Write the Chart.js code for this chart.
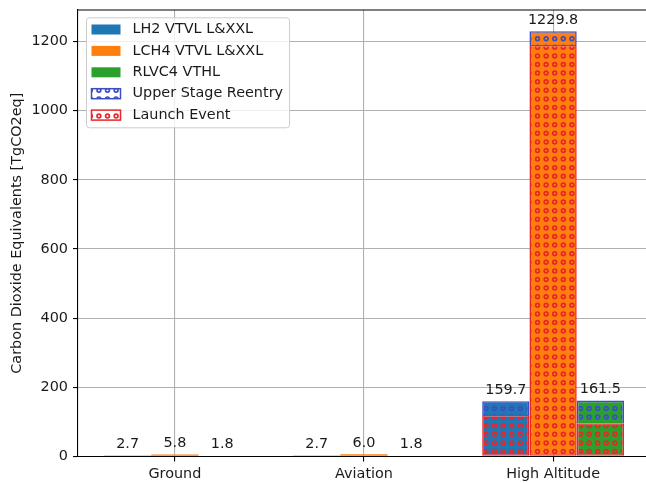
<!DOCTYPE html>
<html>
<head>
<meta charset="utf-8">
<script src="https://cdn.jsdelivr.net/npm/chart.js@4.4.1/dist/chart.umd.min.js"></script>
<style>
html, body { margin: 0; padding: 0; overflow: hidden; background: #fff; }
#wrap { width: 656px; height: 483px; }
</style>
</head>
<body>
<div id="wrap"><canvas id="emissionsChart"></canvas></div>
<script>
const categories = ['Ground', 'Aviation', 'High Altitude'];
const vehicles = ['LH2 VTVL L&XXL', 'LCH4 VTVL L&XXL', 'RLVC4 VTHL'];
const vehicleColors = ['#1f77b4', '#ff7f0e', '#2ca02c'];

// launch event part of each band; reentry only adds to the high altitude band
const lh2Launch = [2.7, 2.7, 120.0];
const lh2Reentry = [0, 0, 39.7];
const lch4Launch = [5.8, 6.0, 1190.0];
const lch4Reentry = [0, 0, 39.8];
const rlvc4Launch = [1.8, 1.8, 96.0];
const rlvc4Reentry = [0, 0, 65.5];

const yTicks = [0, 200, 400, 600, 800, 1000, 1200];

const reentryEdge = '#3b4fc4';
const launchEdge = '#e8262a';
const hatchedBand = categories.indexOf('High Altitude');
const fontSize = 14.4;
const fontFamily = '"DejaVu Sans", sans-serif';
const textColor = '#1a1a1a';

Chart.defaults.font.family = fontFamily;
Chart.defaults.font.size = fontSize;
Chart.defaults.color = textColor;

// small rings on a square grid, like an 'oo' hatch
function circleHatch(bg, ink) {
    const step = 8.6, cells = 5, size = step * cells;
    const c = document.createElement('canvas');
    c.width = size;
    c.height = size;
    const g = c.getContext('2d');
    g.fillStyle = bg;
    g.fillRect(0, 0, size, size);
    g.strokeStyle = ink;
    g.lineWidth = 1.7;
    for (let r = 0; r < cells; r++) {
        for (let k = 0; k < cells; k++) {
            g.beginPath();
            g.arc((k + 0.5) * step, (r + 0.5) * step, 1.9, 0, Math.PI * 2);
            g.stroke();
        }
    }
    return g.createPattern(c, 'repeat');
}

function bandDataset(label, values, color, edge, stack, onTop) {
    return {
        label,
        data: values,
        stack,
        backgroundColor: values.map((v, i) => i === hatchedBand ? circleHatch(color, edge) : color),
        borderColor: values.map((v, i) => i === hatchedBand ? edge : color),
        borderWidth: values.map((v, i) => i === hatchedBand ? 1.6 : 0),
        borderSkipped: onTop ? 'start' : false,
        categoryPercentage: 0.75,
        barPercentage: 1
    };
}

const launchSets = [lh2Launch, lch4Launch, rlvc4Launch];
const reentrySets = [lh2Reentry, lch4Reentry, rlvc4Reentry];

const datasets = [];
vehicles.forEach((name, v) => {
    datasets.push(bandDataset(name + ' launch', launchSets[v], vehicleColors[v], launchEdge, name, false));
    const top = bandDataset(name + ' reentry', reentrySets[v], vehicleColors[v], reentryEdge, name, true);
    top.totals = launchSets[v].map((x, i) => x + reentrySets[v][i]);
    datasets.push(top);
});

const legendItems = [
    { text: vehicles[0], fill: vehicleColors[0] },
    { text: vehicles[1], fill: vehicleColors[1] },
    { text: vehicles[2], fill: vehicleColors[2] },
    { text: 'Upper Stage Reentry', edge: reentryEdge },
    { text: 'Launch Event', edge: launchEdge }
];

// value of the whole stack above each bar
const totalLabels = {
    id: 'totalLabels',
    afterDatasetsDraw(chart) {
        const ctx = chart.ctx;
        ctx.save();
        ctx.font = fontSize + 'px ' + fontFamily;
        ctx.fillStyle = textColor;
        ctx.textAlign = 'center';
        ctx.textBaseline = 'bottom';
        chart.data.datasets.forEach((ds, i) => {
            if (!ds.totals) return;
            chart.getDatasetMeta(i).data.forEach((bar, j) => {
                ctx.fillText(ds.totals[j].toFixed(1), bar.x, bar.y - 4.2);
            });
        });
        ctx.restore();
    }
};

// top spine and the legend box inside the plot
const frameAndLegend = {
    id: 'frameAndLegend',
    afterDraw(chart) {
        const ctx = chart.ctx;
        const area = chart.chartArea;
        ctx.save();
        ctx.strokeStyle = '#000';
        ctx.lineWidth = 1.1;
        ctx.beginPath();
        ctx.moveTo(area.left, area.top);
        ctx.lineTo(area.right, area.top);
        ctx.lineTo(area.right, area.bottom);
        ctx.stroke();

        ctx.font = fontSize + 'px ' + fontFamily;
        const lx = area.left + 8;
        const ly = area.top + 7.3;
        const rowH = 21.4;
        const textX = lx + 46.5;
        const maxW = Math.max(...legendItems.map(it => ctx.measureText(it.text).width));
        const boxW = textX - lx + maxW + 6;
        const boxH = 110;

        ctx.fillStyle = 'rgba(255,255,255,0.8)';
        ctx.strokeStyle = '#cccccc';
        ctx.lineWidth = 1;
        ctx.beginPath();
        ctx.roundRect(lx + 0.5, ly + 0.5, boxW, boxH, 3);
        ctx.fill();
        ctx.stroke();

        ctx.textBaseline = 'middle';
        ctx.textAlign = 'left';
        legendItems.forEach((it, i) => {
            const cy = ly + 12.2 + i * rowH;
            const px = lx + 5.5, pw = 29, ph = 10;
            if (it.fill) {
                ctx.fillStyle = it.fill;
                ctx.fillRect(px, cy - ph / 2, pw, ph);
            } else {
                ctx.fillStyle = circleHatch('#ffffff', it.edge);
                ctx.fillRect(px, cy - ph / 2, pw, ph);
                ctx.strokeStyle = it.edge;
                ctx.lineWidth = 1.5;
                ctx.strokeRect(px, cy - ph / 2, pw, ph);
            }
            ctx.fillStyle = textColor;
            ctx.fillText(it.text, textX, cy);
        });
        ctx.restore();
    }
};

const ctx = document.getElementById('emissionsChart').getContext('2d');

new Chart(ctx, {
    type: 'bar',
    data: {
        labels: categories.map((c, i) => i),
        datasets
    },
    options: {
        responsive: true,
        maintainAspectRatio: false,
        animation: false,
        events: [],
        layout: { padding: { top: 10, right: 6, bottom: 0, left: 0 } },
        plugins: {
            legend: { display: false },
            tooltip: { enabled: false }
        },
        scales: {
            x: {
                type: 'linear',
                stacked: true,
                offset: false,
                min: -0.5125,
                max: 2.5125,
                z: 1,
                afterBuildTicks: scale => { scale.ticks = categories.map((c, i) => ({ value: i })); },
                afterFit: scale => {
                    scale.height = 26.6;
                    scale.paddingLeft = 0;
                    scale.paddingRight = 0;
                },
                ticks: {
                    callback: value => categories[value],
                    padding: 4,
                    maxRotation: 0,
                    autoSkip: false
                },
                grid: {
                    offset: false,
                    color: '#b0b0b0',
                    lineWidth: 1.1,
                    tickColor: '#000',
                    tickLength: 5
                },
                border: { display: true, color: '#000', width: 1.1 }
            },
            y: {
                stacked: true,
                min: 0,
                max: 1291.3,
                z: 1,
                afterBuildTicks: scale => { scale.ticks = yTicks.map(v => ({ value: v })); },
                afterFit: scale => {
                    scale.width = 78;
                    scale.paddingTop = 0;
                    scale.paddingBottom = 0;
                },
                ticks: { padding: 5, callback: value => String(value) },
                grid: {
                    color: '#b0b0b0',
                    lineWidth: 1.1,
                    tickColor: '#000',
                    tickLength: 5
                },
                border: { display: true, color: '#000', width: 1.1 },
                title: {
                    display: true,
                    text: 'Carbon Dioxide Equivalents [TgCO2eq]',
                    padding: { top: 9, bottom: 0 }
                }
            }
        }
    },
    plugins: [totalLabels, frameAndLegend]
});
</script>
</body>
</html>
